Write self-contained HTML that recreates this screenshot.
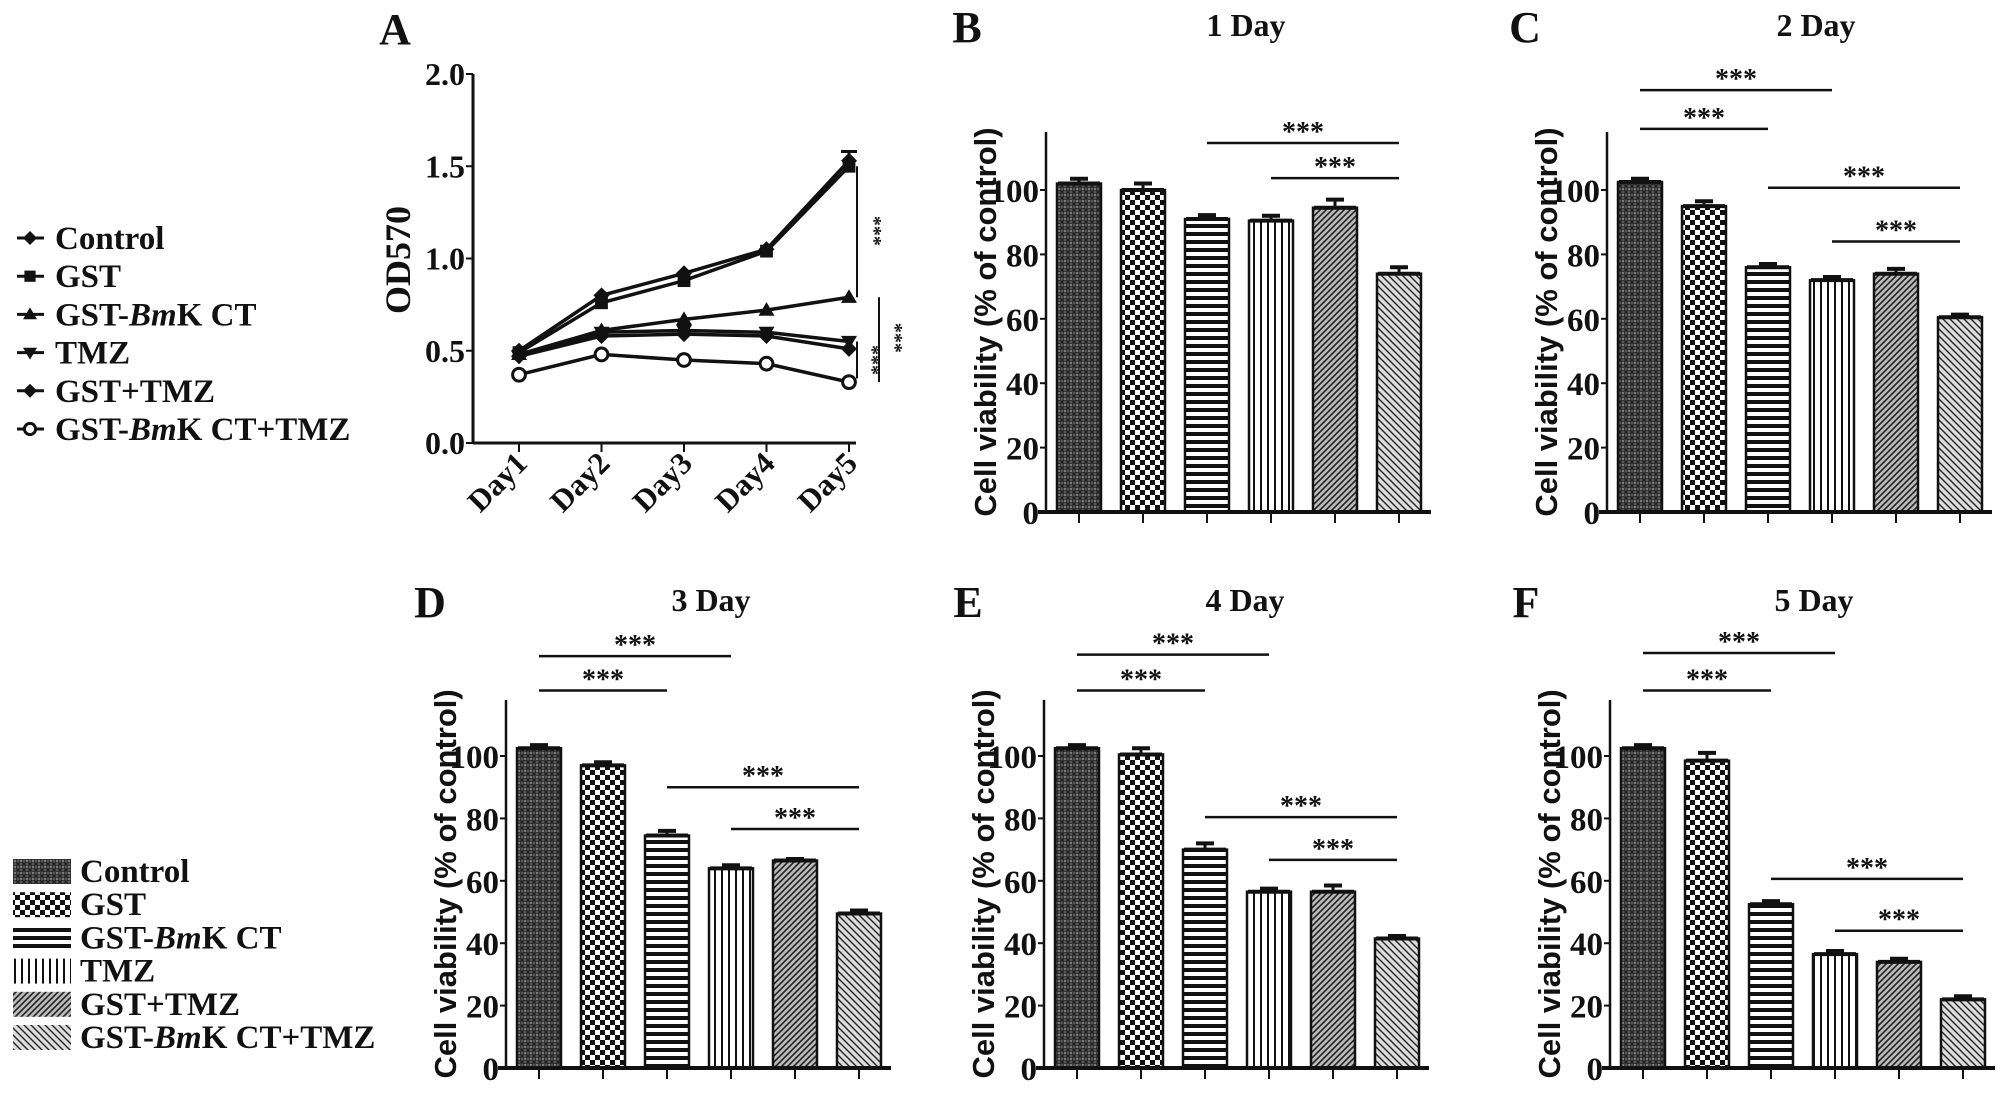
<!DOCTYPE html>
<html><head><meta charset="utf-8"><style>
html,body{margin:0;padding:0;background:#fff;}
svg{display:block;}
text{font-family:"Liberation Serif",serif;font-weight:bold;fill:#111;}
.sans{font-family:"Liberation Sans",sans-serif;font-weight:900;}
</style></head><body>
<svg id="fig" width="2008" height="1096" viewBox="0 0 2008 1096" xmlns="http://www.w3.org/2000/svg">
<defs>
<pattern id="p0" width="6" height="6" patternUnits="userSpaceOnUse"><rect width="6" height="6" fill="#555"/><path d="M0 0L6 6M6 0L0 6" stroke="#222" stroke-width="1.5"/><circle cx="3" cy="3" r="0.9" fill="#bbb"/></pattern>
<pattern id="p1" width="10" height="10" patternUnits="userSpaceOnUse"><rect width="10" height="10" fill="#fff"/><rect width="5" height="5" fill="#111"/><rect x="5" y="5" width="5" height="5" fill="#111"/></pattern>
<pattern id="p2" width="8" height="8" patternUnits="userSpaceOnUse"><rect width="8" height="8" fill="#fff"/><rect y="0" width="8" height="4" fill="#111"/></pattern>
<pattern id="p3" width="7" height="7" patternUnits="userSpaceOnUse"><rect width="7" height="7" fill="#fff"/><rect width="2" height="7" fill="#111"/></pattern>
<pattern id="p4" width="6" height="6" patternUnits="userSpaceOnUse"><rect width="6" height="6" fill="#bbb"/><path d="M-1 7L7 -1M-1 1L1 -1M5 7L7 5" stroke="#222" stroke-width="1.6"/></pattern>
<pattern id="p5" width="7" height="7" patternUnits="userSpaceOnUse"><rect width="7" height="7" fill="#ddd"/><path d="M-1 -1L8 8M-1 6L1 8M6 -1L8 1" stroke="#222" stroke-width="1.4"/></pattern>
</defs>
</svg>
<script>
// ---- Panel A data ----
const daysA = ["Day1","Day2","Day3","Day4","Day5"];
const groups = ["Control","GST","GST-BmK CT","TMZ","GST+TMZ","GST-BmK CT+TMZ"];
const odControl = [0.50,0.80,0.92,1.05,1.53];
const odGST = [0.49,0.76,0.88,1.04,1.50];
const odBmK = [0.48,0.61,0.67,0.72,0.79];
const odTMZ = [0.47,0.60,0.61,0.60,0.55];
const odGSTTMZ = [0.47,0.58,0.59,0.58,0.51];
const odCombo = [0.37,0.48,0.45,0.43,0.33];
const ticksA = [0.0,0.5,1.0,1.5,2.0];
// ---- bar panels data ----
const vTicks = [0,20,40,60,80,100];
const day1 = [102,100,91,90.5,94.5,74];
const day1Err = [1.5,2,1.2,1.5,2.5,2];
const day2 = [102.5,95,76,72,74,60.5];
const day2Err = [1,1.5,1,1,1.5,0.8];
const day3 = [102.5,97,74.5,64,66.5,49.5];
const day3Err = [1,1,1.5,1,0.5,1];
const day4 = [102.5,100.5,70,56.5,56.5,41.5];
const day4Err = [1,2,2,1,2,0.8];
const day5 = [102.5,98.5,52.5,36.5,34,22];
const day5Err = [1,2.5,1,1,1,1];
// significance: [fromBar, toBar, value level]
const sig1 = [[2,5,114.6],[3,5,103.7]];
const sig2 = [[0,3,131],[0,2,119],[2,5,100.7],[3,5,84]];
const sig3 = [[0,3,132],[0,2,121],[2,5,90],[3,5,76.6]];
const sig4 = [[0,3,132.5],[0,2,121],[2,5,80.4],[3,5,66.7]];
const sig5 = [[0,3,133],[0,2,121],[2,5,60.6],[3,5,44]];

const NS="http://www.w3.org/2000/svg";
const svg=document.getElementById('fig');
function mk(tag,attrs,parent,txt){const e=document.createElementNS(NS,tag);for(const k in attrs)e.setAttribute(k,attrs[k]);if(txt!==undefined)e.textContent=txt;(parent||svg).appendChild(e);return e;}

// ---------- Panel A ----------
const gA=mk('g',{});


const axA=473, yA0=443, yA2=74, xD1=519, xStep=82.5;
const yA=v=>yA0-(yA0-yA2)*v/2;
const xA=i=>xD1+xStep*i;
let t=mk('text',{x:395,y:44,'font-size':44,'text-anchor':'middle'},gA,'A');

mk('line',{x1:axA,y1:yA(2),x2:axA,y2:yA0,stroke:'#111','stroke-width':3},gA);
mk('line',{x1:axA,y1:yA0,x2:856,y2:yA0,stroke:'#111','stroke-width':3},gA);
ticksA.forEach(v=>{
  mk('line',{x1:axA-7,y1:yA(v),x2:axA,y2:yA(v),stroke:'#111','stroke-width':2},gA);
  const tt=mk('text',{x:axA-8,y:yA(v)+11,'font-size':32,'text-anchor':'end'},gA,v.toFixed(1));
  
});
daysA.forEach((d,i)=>{
  mk('line',{x1:xA(i),y1:yA0,x2:xA(i),y2:yA0+9,stroke:'#111','stroke-width':2},gA);
  const tt=mk('text',{x:xA(i)+10,y:yA0+22,'font-size':31,'text-anchor':'end',transform:`rotate(-45 ${xA(i)+10} ${yA0+22})`},gA,d);
  
});
t=mk('text',{x:0,y:0,'font-size':36,'text-anchor':'middle',transform:'translate(410 260) rotate(-90)'},gA,'OD570');

const seriesA=[odControl,odGST,odBmK,odTMZ,odGSTTMZ,odCombo];
const markers=['diamond','square','tri','trid','diamond','circle'];
function marker(g,type,x,y,s){
  if(type==='diamond')mk('path',{d:`M${x} ${y-s}L${x+s} ${y}L${x} ${y+s}L${x-s} ${y}Z`,fill:'#111'},g);
  else if(type==='square')mk('rect',{x:x-s*0.8,y:y-s*0.8,width:s*1.6,height:s*1.6,fill:'#111'},g);
  else if(type==='tri')mk('path',{d:`M${x} ${y-s}L${x+s} ${y+s*0.7}L${x-s} ${y+s*0.7}Z`,fill:'#111'},g);
  else if(type==='trid')mk('path',{d:`M${x} ${y+s}L${x+s} ${y-s*0.7}L${x-s} ${y-s*0.7}Z`,fill:'#111'},g);
  else mk('circle',{cx:x,cy:y,r:s*0.8,fill:'#fff',stroke:'#111','stroke-width':3},g);
}
seriesA.forEach((s,k)=>{
  const g=mk('g',{},gA);
  
  
  mk('polyline',{points:s.map((v,i)=>xA(i)+','+yA(v)).join(' '),fill:'none',stroke:'#111','stroke-width':3.5},g);
  s.forEach((v,i)=>{
    const m=mk('g',{},g);
    
    
    marker(m,markers[k],xA(i),yA(v),8);
  });
});
mk('line',{x1:xA(4)-8,y1:yA(1.58),x2:xA(4)+8,y2:yA(1.58),stroke:'#111','stroke-width':3},gA);
mk('line',{x1:xA(4),y1:yA(1.58),x2:xA(4),y2:yA(1.5),stroke:'#111','stroke-width':3},gA);
mk('line',{x1:857,y1:yA(1.5),x2:857,y2:yA(0.79),stroke:'#111','stroke-width':2},gA);
mk('line',{x1:879,y1:yA(0.79),x2:879,y2:yA(0.33),stroke:'#111','stroke-width':2},gA);
mk('line',{x1:857,y1:yA(0.55),x2:857,y2:yA(0.35),stroke:'#111','stroke-width':2},gA);
[[868,yA(1.15)],[889,yA(0.57)],[866,yA(0.45)]].forEach(p=>{
  const tt=mk('text',{x:0,y:0,'font-size':20,'text-anchor':'middle',transform:`translate(${p[0]} ${p[1]}) rotate(90)`},gA,'***');
  
});
function legendText(parent,x,y,gname,size){
  const tt=mk('text',{x:x,y:y,'font-size':size},parent);
  if(gname.includes('BmK')){
    tt.appendChild(document.createTextNode('GST-'));
    mk('tspan',{'font-style':'italic'},tt,'Bm');
    tt.appendChild(document.createTextNode(gname.replace('GST-BmK','K')));
  } else tt.textContent=gname;
  return tt;
}
const legA=mk('g',{});


groups.forEach((gname,k)=>{
  const y=238+38.2*k;
  const e=mk('g',{},legA);
  
  
  mk('line',{x1:17,y1:y,x2:44,y2:y,stroke:'#111','stroke-width':3},e);
  marker(e,markers[k],30,y,7);
  legendText(e,55,y+11,gname,33);
});

// ---------- Bar panels ----------
const panels=[
 {id:'b',letter:'B',title:'1 Day',ax:1046,y0:512,y100:190,vals:day1,errs:day1Err,sig:sig1,lx:967,tx:1246,ty:36},
 {id:'c',letter:'C',title:'2 Day',ax:1607,y0:512,y100:190,vals:day2,errs:day2Err,sig:sig2,lx:1525,tx:1816,ty:36},
 {id:'d',letter:'D',title:'3 Day',ax:506,y0:1068,y100:756,vals:day3,errs:day3Err,sig:sig3,lx:430,tx:711,ty:611},
 {id:'e',letter:'E',title:'4 Day',ax:1044,y0:1068,y100:756,vals:day4,errs:day4Err,sig:sig4,lx:968,tx:1245,ty:611},
 {id:'f',letter:'F',title:'5 Day',ax:1610,y0:1068,y100:756,vals:day5,errs:day5Err,sig:sig5,lx:1526,tx:1814,ty:611}
];
panels.forEach(P=>{
  const g=mk('g',{});
  
  
  const y=v=>P.y0-(P.y0-P.y100)*v/100;
  const xc=i=>P.ax+33+64*i;
  let tt=mk('text',{x:P.lx,y:P.ty+6,'font-size':44,'text-anchor':'middle'},g,P.letter);
  
  tt=mk('text',{x:P.tx,y:P.ty,'font-size':32,'text-anchor':'middle'},g,P.title);
  
  P.vals.forEach((v,i)=>{
    const r=mk('rect',{x:xc(i)-22,y:y(v),width:44,height:P.y0-y(v),fill:`url(#p${i})`,stroke:'#111','stroke-width':2.5},g);
    
    
    const top=y(v+P.errs[i]);
    mk('line',{x1:xc(i),y1:y(v),x2:xc(i),y2:top,stroke:'#111','stroke-width':3},g);
    mk('line',{x1:xc(i)-9,y1:top,x2:xc(i)+9,y2:top,stroke:'#111','stroke-width':4},g);
    mk('line',{x1:xc(i)-21,y1:y(v),x2:xc(i)+21,y2:y(v),stroke:'#111','stroke-width':4},g);
    mk('line',{x1:xc(i),y1:P.y0,x2:xc(i),y2:P.y0+11,stroke:'#111','stroke-width':2},g);
  });
  mk('line',{x1:P.ax,y1:y(118),x2:P.ax,y2:P.y0,stroke:'#111','stroke-width':2.5},g);
  mk('line',{x1:P.ax-8,y1:P.y0,x2:P.ax+385,y2:P.y0,stroke:'#111','stroke-width':4},g);
  vTicks.forEach(v=>{
    mk('line',{x1:P.ax-6,y1:y(v),x2:P.ax,y2:y(v),stroke:'#111','stroke-width':2},g);
    const l=mk('text',{x:P.ax-7,y:y(v)+12,'font-size':33,'text-anchor':'end'},g,String(v));
    
  });
  const mid=(P.y0+y(118))/2;
  tt=mk('text',{x:0,y:0,'font-size':31,'text-anchor':'middle','class':'sans',transform:`translate(${P.ax-50} ${mid}) rotate(-90)`},g,'Cell viability (% of control)');
  
  P.sig.forEach(s=>{
    const sy=y(s[2]);
    mk('line',{x1:xc(s[0]),y1:sy,x2:xc(s[1]),y2:sy,stroke:'#111','stroke-width':2.5},g);
    const st=mk('text',{x:(xc(s[0])+xc(s[1]))/2,y:sy-2,'font-size':28,'text-anchor':'middle'},g,'***');
    
  });
});

const legB=mk('g',{});


groups.forEach((gname,k)=>{
  const y=871+33.2*k;
  const e=mk('g',{},legB);
  
  
  mk('rect',{x:13,y:y-12,width:58,height:25,fill:`url(#p${k})`},e);
  legendText(e,80,y+11,gname,33);
});
</script>
</body></html>
